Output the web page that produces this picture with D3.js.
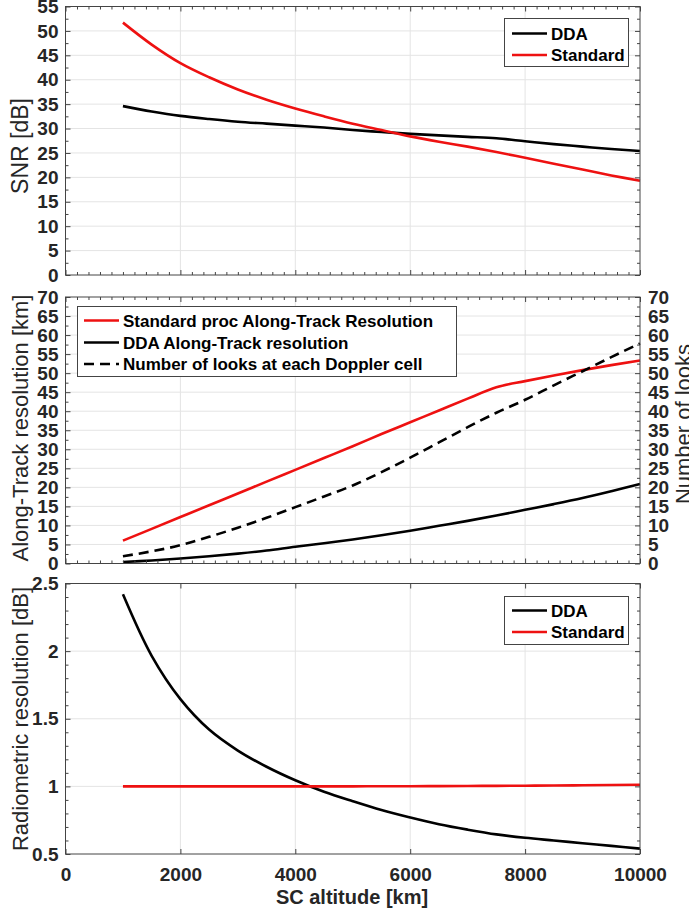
<!DOCTYPE html>
<html>
<head>
<meta charset="utf-8">
<script src="https://cdn.jsdelivr.net/npm/d3@7"></script>
<style>
  body { margin: 0; background: #fff; }
  svg { display: block; font-family: "Liberation Sans", Arial, sans-serif; }
</style>
</head>
<body>
<div id="chart"></div>
<script>
// SC altitude [km]
const altitude = [1000, 1500, 2000, 2500, 3000, 3500, 4000, 4500, 5000, 5500,
                  6000, 6500, 7000, 7500, 8000, 8500, 9000, 9500, 10000];

// SNR [dB]
const snrDDA      = [34.6, 33.5, 32.6, 31.95, 31.4, 31.0, 30.6, 30.2, 29.7, 29.3,
                     28.9, 28.6, 28.3, 28.0, 27.4, 26.8, 26.3, 25.8, 25.4];
const snrStandard = [51.7, 47.2, 43.4, 40.5, 38.0, 35.9, 34.1, 32.5, 31.0, 29.7,
                     28.4, 27.3, 26.3, 25.2, 24.0, 22.8, 21.6, 20.4, 19.3];

// Along-track resolution [km] and number of looks
const alongStandard = [6.0, 9.1, 12.2, 15.3, 18.4, 21.5, 24.6, 27.7, 30.8, 34.0,
                       37.1, 40.2, 43.3, 46.3, 47.9, 49.4, 50.8, 52.1, 53.3];
const alongDDA      = [0.4, 0.8, 1.3, 1.9, 2.6, 3.4, 4.4, 5.3, 6.3, 7.4,
                       8.6, 9.9, 11.2, 12.6, 14.1, 15.6, 17.2, 19.0, 20.9];
const numLooks      = [1.9, 3.2, 4.8, 7.0, 9.4, 12.0, 14.8, 17.6, 20.5, 24.0,
                       27.8, 31.8, 35.8, 39.6, 43.0, 46.8, 50.5, 54.2, 57.8];

// Radiometric resolution [dB]
const radioDDA      = [2.42, 1.965, 1.645, 1.42, 1.265, 1.145, 1.045, 0.96, 0.89, 0.825,
                       0.77, 0.72, 0.68, 0.645, 0.62, 0.60, 0.58, 0.56, 0.54];
const radioStandard = [1.0, 1.0, 1.0, 1.0, 1.0, 1.0, 1.0, 1.0, 1.0, 1.001,
                       1.001, 1.002, 1.003, 1.004, 1.005, 1.006, 1.008, 1.010, 1.012];

// Tick values
const xTicks = [0, 2000, 4000, 6000, 8000, 10000];
const snrTicks = d3.range(0, 56, 5);
const alongTicks = d3.range(0, 71, 5);
const radioTicks = [0.5, 1, 1.5, 2, 2.5];

const width = 689;
const height = 911;
const left = 65.5;
const right = 640;
const red = "#ee1111";
const gridColor = "#e4e4e4";
const axisColor = "#444";
const textColor = "#262626";
const smooth = d3.curveCatmullRom.alpha(0.5);

const svg = d3.select("#chart")
    .append("svg")
    .attr("width", width)
    .attr("height", height);

const x = d3.scaleLinear().domain([0, 10000]).range([left, right]);
const xMinor = d3.range(0, 10001, 200).filter(d => d % 2000 !== 0);

function styleAxis(g, size) {
    g.select(".domain").remove();
    g.selectAll("line").attr("stroke", axisColor);
    g.selectAll("text")
        .attr("fill", textColor)
        .style("font-size", size + "px")
        .style("font-weight", "bold")
        .style("font-family", "'Liberation Sans', Arial, sans-serif");
}

function drawPanel(p) {
    const y = d3.scaleLinear().domain(p.domain).range([p.bottom, p.top]);
    const g = svg.append("g");

    // Grid
    g.selectAll(".xgrid")
        .data(xTicks.slice(1, -1))
        .enter()
        .append("line")
        .attr("x1", d => x(d)).attr("x2", d => x(d))
        .attr("y1", p.top).attr("y2", p.bottom)
        .attr("stroke", gridColor);
    g.selectAll(".ygrid")
        .data(p.ticks.slice(1, -1))
        .enter()
        .append("line")
        .attr("x1", left).attr("x2", right)
        .attr("y1", d => y(d)).attr("y2", d => y(d))
        .attr("stroke", gridColor);

    // Series
    p.series.forEach(s => {
        const line = d3.line()
            .x((d, i) => x(altitude[i]))
            .y(d => y(d))
            .curve(s.curve || d3.curveMonotoneX);
        g.append("path")
            .datum(s.values)
            .attr("d", line)
            .attr("fill", "none")
            .attr("stroke", s.color)
            .attr("stroke-width", 2.6)
            .attr("stroke-dasharray", s.dash || null);
    });

    // Box
    g.append("rect")
        .attr("x", left).attr("y", p.top)
        .attr("width", right - left).attr("height", p.bottom - p.top)
        .attr("fill", "none")
        .attr("stroke", axisColor);

    // X axes (inward ticks)
    g.append("g")
        .attr("transform", `translate(0, ${p.bottom})`)
        .call(d3.axisBottom(x).tickValues(xTicks).tickSizeInner(-5).tickSizeOuter(0).tickPadding(13.5)
            .tickFormat(p.xLabels ? d3.format("d") : ""))
        .call(a => styleAxis(a, 19));
    g.append("g")
        .attr("transform", `translate(0, ${p.top})`)
        .call(d3.axisTop(x).tickValues(xTicks).tickSizeInner(-5).tickSizeOuter(0).tickFormat(""))
        .call(a => styleAxis(a, 19));
    if (p.xMinorTicks) {
        g.append("g")
            .attr("transform", `translate(0, ${p.bottom})`)
            .call(d3.axisBottom(x).tickValues(xMinor).tickSizeInner(-3).tickSizeOuter(0).tickFormat(""))
            .call(a => styleAxis(a, 19));
        g.append("g")
            .attr("transform", `translate(0, ${p.top})`)
            .call(d3.axisTop(x).tickValues(xMinor).tickSizeInner(-3).tickSizeOuter(0).tickFormat(""))
            .call(a => styleAxis(a, 19));
    }

    // Y axes
    g.append("g")
        .attr("transform", `translate(${left}, 0)`)
        .call(d3.axisLeft(y).tickValues(p.ticks).tickSizeInner(-5).tickSizeOuter(0).tickPadding(7)
            .tickFormat(d3.format("~g")))
        .call(a => styleAxis(a, 19));
    g.append("g")
        .attr("transform", `translate(${right}, 0)`)
        .call(d3.axisRight(y).tickValues(p.ticks).tickSizeInner(-5).tickSizeOuter(0).tickPadding(8)
            .tickFormat(p.rightLabels ? d3.format("~g") : ""))
        .call(a => styleAxis(a, 19));
    [left, right].forEach(xp => {
        g.append("g")
            .attr("transform", `translate(${xp}, 0)`)
            .call((xp === left ? d3.axisLeft(y) : d3.axisRight(y))
                .tickValues(p.minorY).tickSizeInner(-3).tickSizeOuter(0).tickFormat(""))
            .call(a => styleAxis(a, 19));
    });

    // Y label
    g.append("text")
        .attr("transform", `translate(28, ${p.labelY}) rotate(-90)`)
        .attr("text-anchor", "middle")
        .attr("fill", textColor)
        .style("font-size", p.labelSize + "px")
        .text(p.label);

    // Legend
    const lg = p.legend;
    g.append("rect")
        .attr("x", lg.x).attr("y", lg.y)
        .attr("width", lg.w).attr("height", lg.h)
        .attr("fill", "#fff")
        .attr("stroke", axisColor);
    lg.items.forEach((it, i) => {
        const ry = lg.rowY[i];
        g.append("line")
            .attr("x1", lg.lineX).attr("x2", lg.lineX + 35)
            .attr("y1", ry).attr("y2", ry)
            .attr("stroke", it.color)
            .attr("stroke-width", 2.6)
            .attr("stroke-dasharray", it.dash ? "10,6,10,6,3" : null);
        g.append("text")
            .attr("x", lg.lineX + 39)
            .attr("y", ry)
            .attr("dy", "0.36em")
            .attr("fill", "#000")
            .style("font-size", "17px")
            .style("font-weight", "bold")
            .text(it.name);
    });
    return y;
}

// SNR panel
drawPanel({
    top: 6.5, bottom: 275, domain: [0, 55], ticks: snrTicks,
    minorY: d3.range(2.5, 55, 5), xMinorTicks: true, xLabels: false, rightLabels: false,
    label: "SNR [dB]", labelY: 146, labelSize: 23,
    series: [
        { values: snrDDA, color: "#000" },
        { values: snrStandard, color: red, curve: smooth }
    ],
    legend: {
        x: 504.5, y: 18.5, w: 124, h: 48, lineX: 512, rowY: [33.5, 55],
        items: [{ name: "DDA", color: "#000" }, { name: "Standard", color: red }]
    }
});

// Along-track panel
drawPanel({
    top: 297, bottom: 563.5, domain: [0, 70], ticks: alongTicks,
    minorY: d3.range(2.5, 70, 5), xMinorTicks: true, xLabels: false, rightLabels: true,
    label: "Along-Track resolution [km]", labelY: 428, labelSize: 22,
    series: [
        { values: alongStandard, color: red },
        { values: alongDDA, color: "#000", curve: smooth },
        { values: numLooks, color: "#000", dash: "10,6" }
    ],
    legend: {
        x: 77.5, y: 306.5, w: 379, h: 70, lineX: 84, rowY: [320.5, 342.5, 364],
        items: [
            { name: "Standard proc Along-Track Resolution", color: red },
            { name: "DDA Along-Track resolution", color: "#000" },
            { name: "Number of looks at each Doppler cell", color: "#000", dash: true }
        ]
    }
});

// Right label for number of looks
svg.append("text")
    .attr("transform", "translate(691, 424) rotate(-90)")
    .attr("text-anchor", "middle")
    .attr("fill", textColor)
    .style("font-size", "22px")
    .text("Number of looks");

// Radiometric panel
drawPanel({
    top: 583.5, bottom: 854, domain: [0.5, 2.5], ticks: radioTicks,
    minorY: d3.range(0.6, 2.45, 0.1).filter(d => Math.abs(d * 2 - Math.round(d * 2)) > 0.01),
    xMinorTicks: false, xLabels: true, rightLabels: false,
    label: "Radiometric resolution [dB]", labelY: 719, labelSize: 22,
    series: [
        { values: radioDDA, color: "#000", curve: smooth },
        { values: radioStandard, color: red }
    ],
    legend: {
        x: 504.5, y: 596.5, w: 124, h: 48, lineX: 512, rowY: [610.5, 632],
        items: [{ name: "DDA", color: "#000" }, { name: "Standard", color: red }]
    }
});

// X label
svg.append("text")
    .attr("x", 352)
    .attr("y", 904)
    .attr("text-anchor", "middle")
    .attr("fill", textColor)
    .style("font-size", "20px")
    .style("font-weight", "bold")
    .text("SC altitude [km]");
</script>
</body>
</html>
